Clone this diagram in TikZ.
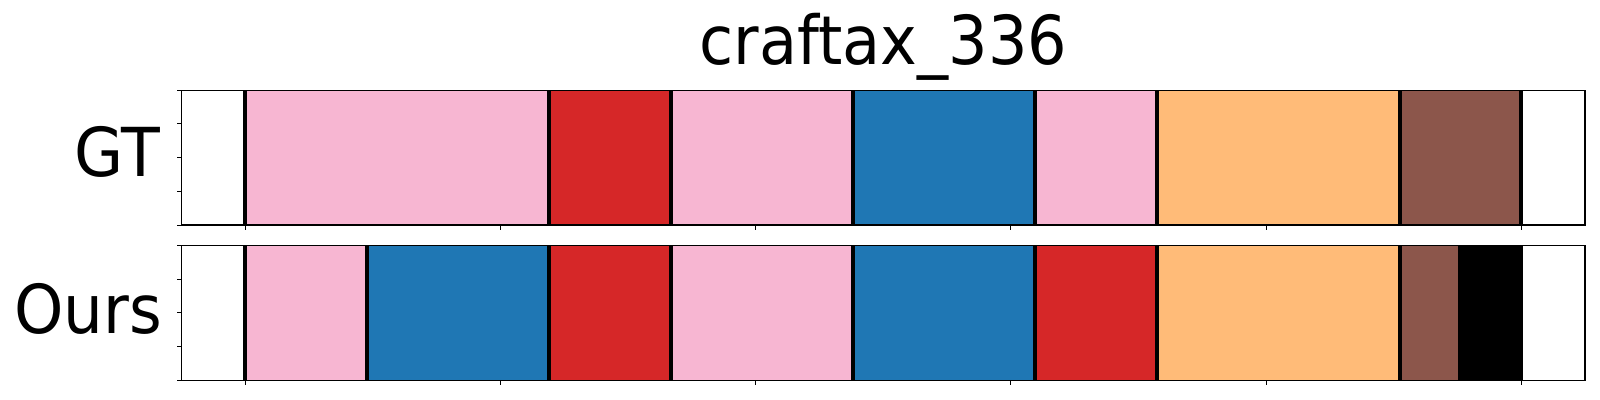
\documentclass[tikz,border=0pt]{standalone}
\usepackage{fontspec}
\setmainfont{DejaVu Sans}
\usepackage{graphicx}
\usetikzlibrary{positioning}
\definecolor{tabpink}{HTML}{F7B6D2}
\definecolor{tabred}{HTML}{D62728}
\definecolor{tabblue}{HTML}{1F77B4}
\definecolor{taborange}{HTML}{FFBB78}
\definecolor{tabbrown}{HTML}{8C564B}
\tikzset{
    segment/.style={fill=#1,draw=#1!85!black,line width=0.3pt},
    cut/.style={draw=black,line width=3pt},
    frame/.style={draw=black,line width=0.9pt},
    tick/.style={draw=black,line width=0.7pt},
    rowlabel/.style={anchor=base east,inner sep=0pt,font=\fontsize{48}{58}\selectfont},
    titletext/.style={anchor=base,inner sep=0pt,font=\fontsize{48}{58}\selectfont},
}

\begin{document}
\begin{tikzpicture}[x=0.025cm,y=0.025cm]
\useasboundingbox (0,0) rectangle (1600,400);
\node[titletext] (title) at (883.4,335.4) {\scalebox{0.92}[1]{craftax\_336}};
\node[rowlabel] (gt) at (160,223) {\scalebox{0.94}[1]{GT}};
\node[rowlabel] (ours) at (162.5,66) {\scalebox{0.93}[1]{Ours}};
% ground truth row
\begin{scope}[shift={(245.3,175)},xscale=12.152]
\foreach \a/\b/\c in {0/25/tabpink,25/35/tabred,35/50/tabpink,50/65/tabblue,65/75/tabpink,75/95/taborange,95/105/tabbrown}
    \path[segment=\c] (\a,0) rectangle (\b,134.7);
\foreach \x in {0,25,35,50,65,75,95,105}
    \draw[cut] (\x,0) -- (\x,134.7);
\foreach \x in {0,21,...,105}
    \draw[tick] (\x,0) -- ++(0,-5);
\foreach \k in {0,...,4}
    \draw[tick] (-5.25,\k*33.675) -- ++(-0.41,0);
\draw[frame] (-5.25,0) rectangle (110.25,134.7);
\end{scope}
% predicted row
\begin{scope}[shift={(245.3,19.7)},xscale=12.152]
\foreach \a/\b/\c in {0/10/tabpink,10/25/tabblue,25/35/tabred,35/50/tabpink,50/65/tabblue,65/75/tabred,75/95/taborange,95/100/tabbrown,100/105/black}
    \path[segment=\c] (\a,0) rectangle (\b,135);
\foreach \x in {0,10,25,35,50,65,75,95,100,105}
    \draw[cut] (\x,0) -- (\x,135);
\foreach \x in {0,21,...,105}
    \draw[tick] (\x,0) -- ++(0,-5);
\foreach \k in {0,...,4}
    \draw[tick] (-5.25,\k*33.75) -- ++(-0.41,0);
\draw[frame] (-5.25,0) rectangle (110.25,135);
\end{scope}
\end{tikzpicture}
\end{document}
